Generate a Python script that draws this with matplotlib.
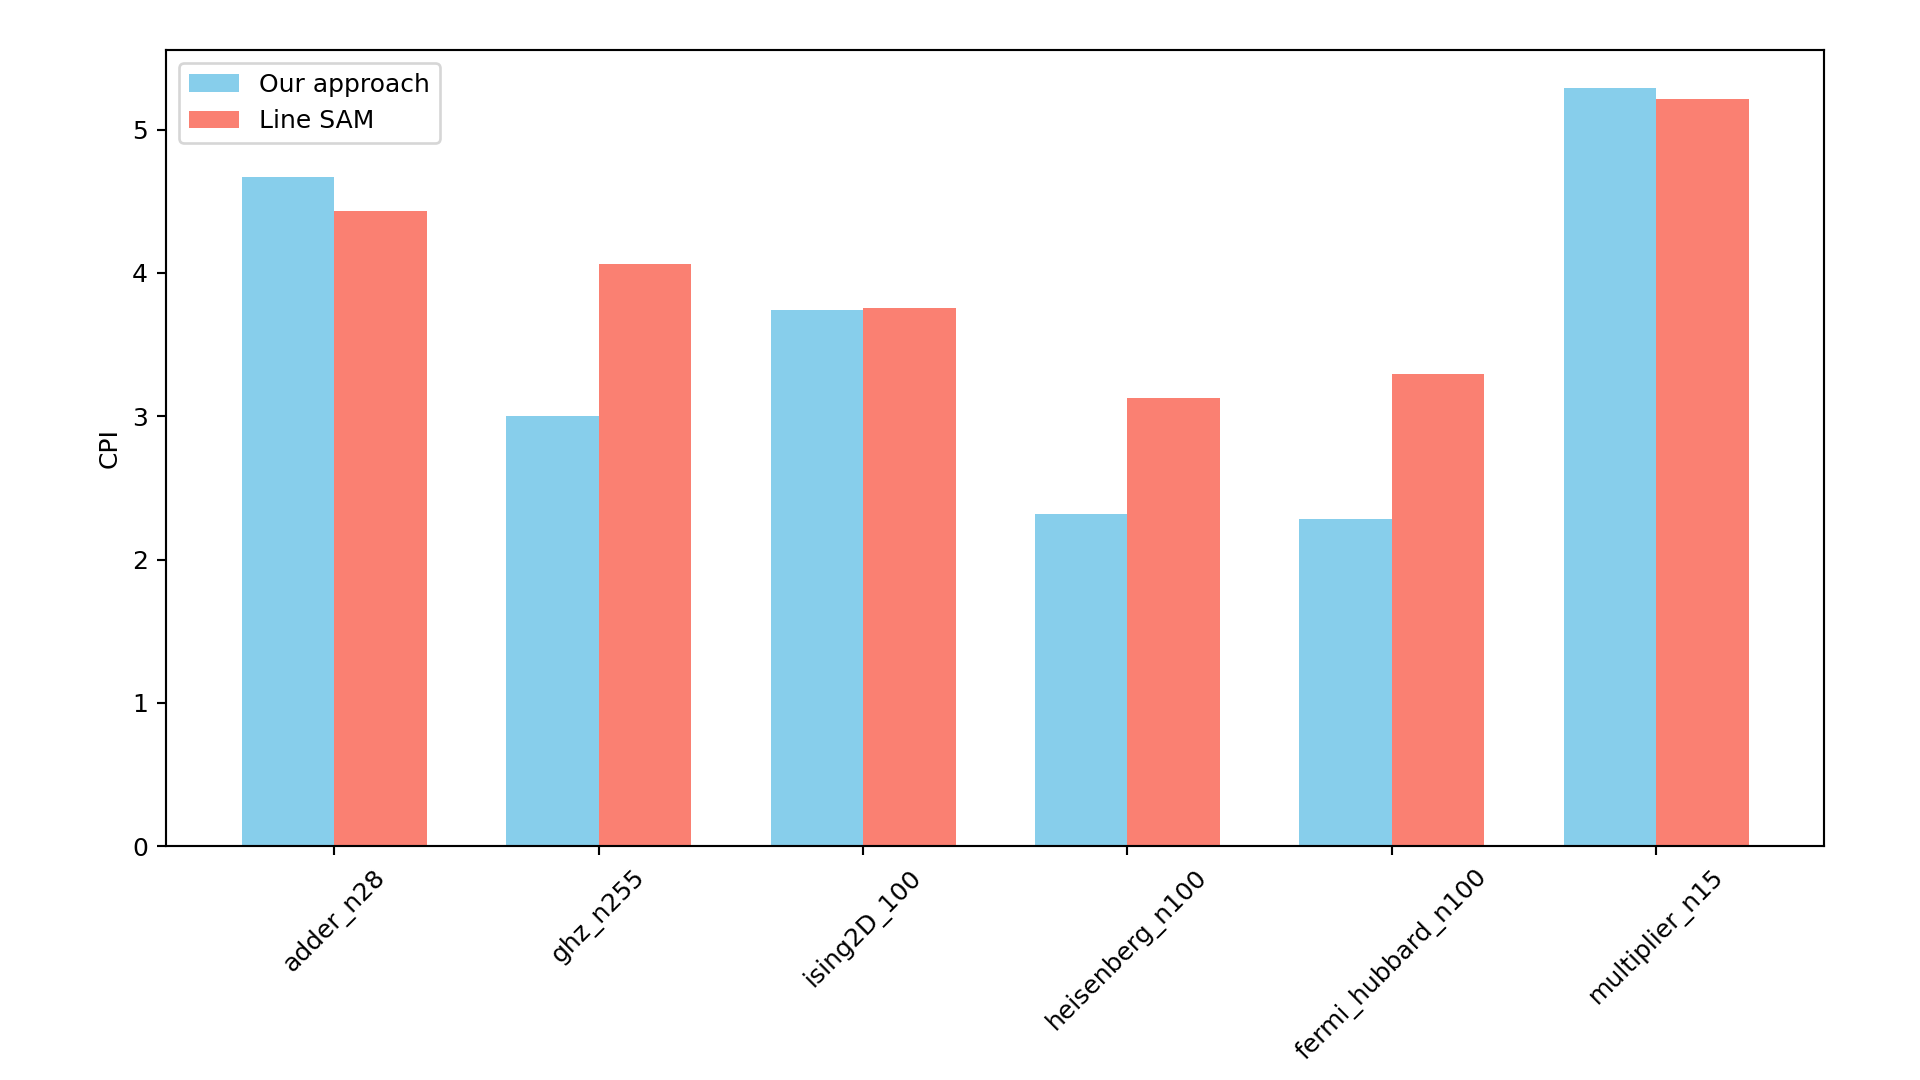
import matplotlib
matplotlib.use("Agg")
import matplotlib.pyplot as plt
import numpy as np

# data
circuits = ["adder_n28", "ghz_n255", "ising2D_100", "heisenberg_n100",
            "fermi_hubbard_n100", "multiplier_n15"]
cpi_ours = [4.67, 3.00, 3.74, 2.32, 2.28, 5.29]
cpi_line_sam = [4.435, 4.065, 3.755, 3.125, 3.297, 5.215]

plt.rcParams["font.size"] = 9.4

fig = plt.figure(figsize=(10, 5.625), dpi=192)
ax = fig.add_axes([0.0867, 0.2166, 0.8633, 0.7369])

x = np.arange(len(circuits))
width = 0.35
ax.bar(x - width / 2, cpi_ours, width, label="Our approach", color="skyblue")
ax.bar(x + width / 2, cpi_line_sam, width, label="Line SAM", color="salmon")

ax.set_ylabel("CPI")
ax.set_xticks(x)
ax.set_xticklabels(circuits, rotation=45)
ax.legend(loc="upper left")

fig.savefig("out.png", dpi=192)
